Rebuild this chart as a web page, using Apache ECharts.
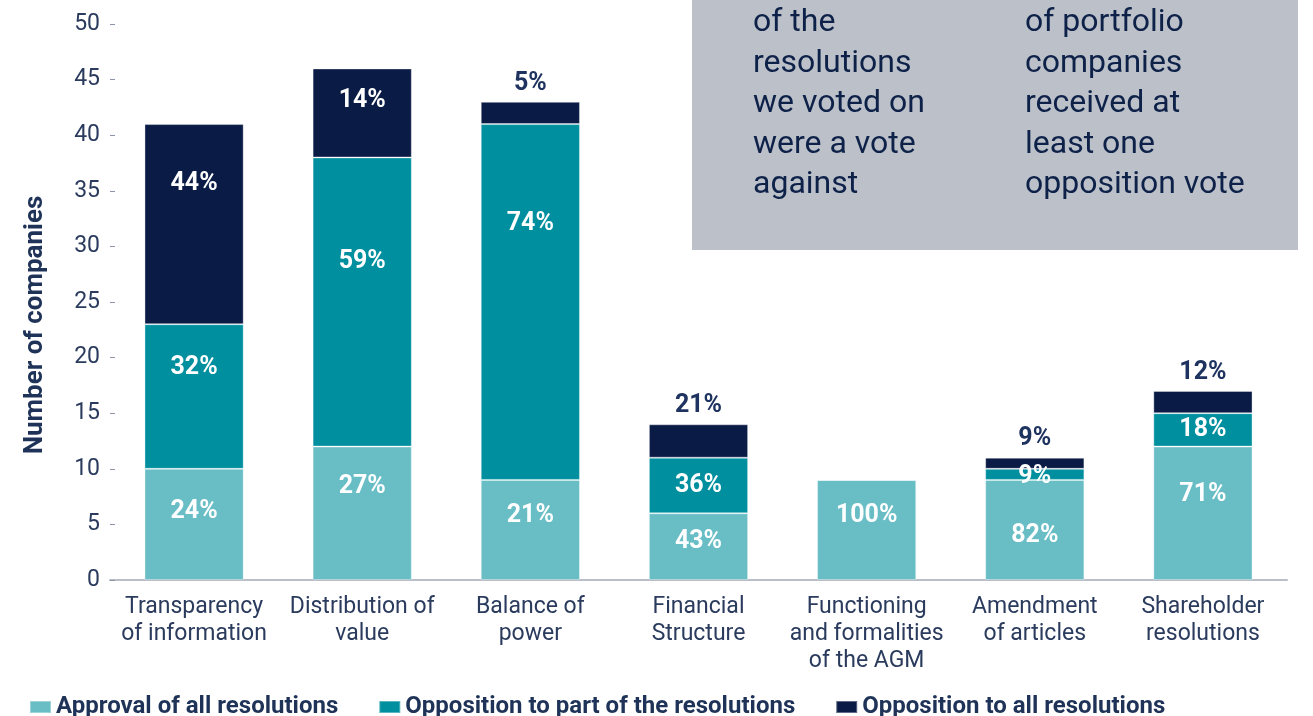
<!DOCTYPE html>
<html>
<head>
<meta charset="utf-8">
<script src="https://cdn.jsdelivr.net/npm/echarts@6/dist/echarts.min.js"></script>
<style>html,body{margin:0;padding:0;background:#fff}#c{width:1313px;height:716px}</style>
</head>
<body>
<div id="c"></div>
<script>
const categories = ['Transparency\nof information','Distribution of\nvalue','Balance of\npower','Financial\nStructure','Functioning\nand formalities\nof the AGM','Amendment\nof articles','Shareholder\nresolutions'];
const seriesNames = ['Approval of all resolutions','Opposition to part of the resolutions','Opposition to all resolutions'];
const approval = [10, 12, 9, 6, 9, 9, 12];
const oppositionPart = [13, 26, 32, 5, 0, 1, 3];
const oppositionAll = [18, 8, 2, 3, 0, 1, 2];
const approvalPct = ['24%','27%','21%','43%','100%','82%','71%'];
const partPct = ['32%','59%','74%','36%','','9%','18%'];
const allPct = ['44%','14%','5%','21%','','9%','12%'];
const yTicks = [0,5,10,15,20,25,30,35,40,45,50];
const boxLeft = ['of the','resolutions','we voted on','were a vote','against'];
const boxRight = ['of portfolio','companies','received at','least one','opposition vote'];

const colors = ['#69bec6','#008f9e','#0a1b45'];
const insideLabel = {show:true, color:'#ffffff', fontFamily:'Roboto', fontWeight:'bold', fontSize:25, position:['50%','36%'], align:'center', verticalAlign:'middle'};
const topLabel = {show:true, position:'top', distance:6, color:'#1e3360', fontFamily:'Roboto', fontWeight:'bold', fontSize:25, align:'center', verticalAlign:'bottom'};
const topLabelIdx = [2,3,5,6];

function withPos(pos){ return Object.assign({}, insideLabel, {position:pos}); }
function build(values, pcts, seriesIdx){
  return values.map((v,i)=>{
    const item = {value:v, pct:pcts[i]};
    if (seriesIdx === 2 && topLabelIdx.indexOf(i) >= 0) item.label = topLabel;
    if (seriesIdx === 2 && i === 0) item.label = withPos(['50%','30%']);
    if (seriesIdx === 0 && i === 5) item.label = withPos(['50%','56%']);
    if (seriesIdx === 0 && i === 0) item.label = withPos(['50%','39%']);
    if (seriesIdx === 0 && i === 1) item.label = withPos(['50%','30%']);
    if (seriesIdx === 1 && i === 5) item.label = withPos(['50%','75%']);
    if (seriesIdx === 1 && i === 2) item.label = withPos(['50%','28%']);
    if (seriesIdx === 1 && i === 0) item.label = withPos(['50%','30%']);
    if (seriesIdx === 1 && (i === 3 || i === 6)) item.label = withPos(['50%','50%']);
    if (seriesIdx === 0 && i === 3) item.label = withPos(['50%','43%']);
    return item;
  });
}

const seriesData = [build(approval, approvalPct, 0), build(oppositionPart, partPct, 1), build(oppositionAll, allPct, 2)];

const chart = echarts.init(document.getElementById('c'));
const textColor = '#2a3b5d';
chart.setOption({
  backgroundColor:'#ffffff',
  animation:false,
  color: colors,
  grid:{left:110, right:26, top:24, bottom:136, containLabel:false},
  legend:{
    left:24, top:690, itemWidth:21, itemHeight:12, itemGap:40,
    icon:'rect',
    textStyle:{color:'#1f3358', fontFamily:'Roboto', fontWeight:'bold', fontSize:24},
    data: seriesNames
  },
  xAxis:{
    type:'category',
    data: categories,
    axisLine:{show:true, lineStyle:{color:'#b9bec7', width:2}},
    axisTick:{show:false},
    axisLabel:{color:textColor, fontFamily:'Roboto', fontSize:23, lineHeight:27, margin:14, interval:0}
  },
  yAxis:{
    type:'value', min:yTicks[0], max:yTicks[yTicks.length-1], interval:5,
    name:'Number of companies', nameLocation:'middle', nameGap:62, nameRotate:90,
    nameTextStyle:{color:'#1f3358', fontFamily:'Roboto', fontWeight:'bold', fontSize:26, padding:[0,0,0,-46]},
    splitLine:{show:false},
    axisLine:{show:false},
    axisTick:{show:true, inside:true, length:5, lineStyle:{color:'#8b95a7', width:1}},
    axisLabel:{color:textColor, fontFamily:'Roboto', fontSize:23, margin:10}
  },
  graphic:[
    {type:'rect', left:692, top:0, shape:{x:0,y:0,width:606,height:250}, style:{fill:'#bcc1c9'}, z:0},
    {type:'text', left:753, top:3, style:{text:boxLeft.join('\n'), fill:'#0e2149', font:'32px Roboto', lineHeight:40.5}, z:1},
    {type:'text', left:1025, top:3, style:{text:boxRight.join('\n'), fill:'#0e2149', font:'32px Roboto', lineHeight:40.5}, z:1}
  ],
  series: seriesNames.map((n, k)=>({
    name:n, type:'bar', stack:'total', barWidth:'59%',
    data: seriesData[k],
    itemStyle:{color:colors[k], borderColor:'rgba(255,255,255,0.35)', borderWidth:1},
    label:Object.assign({}, insideLabel, {formatter:(p)=>p.data.pct}),
    labelLayout:{hideOverlap:false}
  }))
});
chart.setOption({series: seriesNames.map(()=>({label:{formatter:(p)=>p.data.pct}}))});
</script>
</body>
</html>
